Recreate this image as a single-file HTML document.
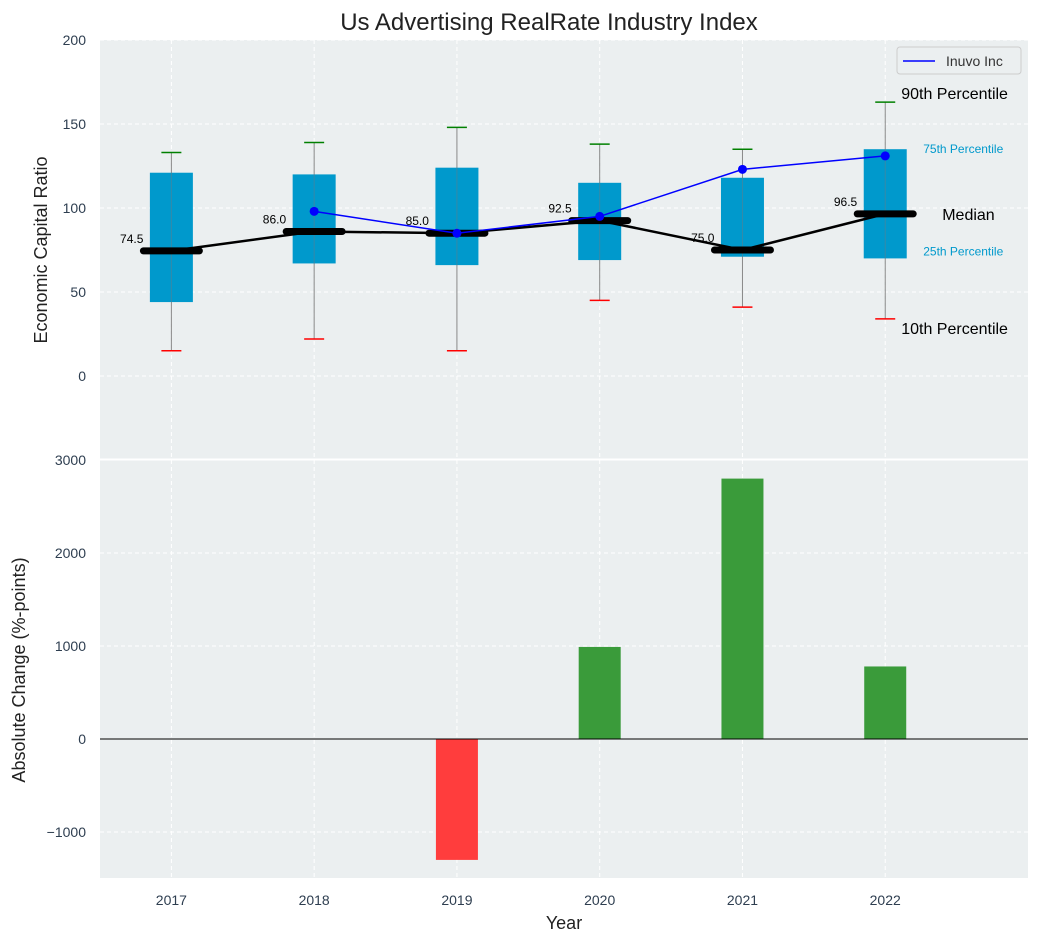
<!DOCTYPE html>
<html><head><meta charset="utf-8"><style>
body{margin:0;background:#fff;font-family:"Liberation Sans","DejaVu Sans",sans-serif}
</style></head><body>
<svg id="c" width="1039" height="942" xmlns="http://www.w3.org/2000/svg"></svg>
<script>
const years=[2017,2018,2019,2020,2021,2022];
const q1=[44,67,66,69,71,70];
const q3=[121,120,124,115,118,135];
const p10=[15,22,15,45,41,34];
const p90=[133,139,148,138,135,163];
const medians=[74.5,86,85,92.5,75,96.5];
const inuvoYears=[2018,2019,2020,2021,2022];
const inuvo=[98,85,95,123,131];
const changes=[null,null,-1300,990,2800,780];
const topTicks=[0,50,100,150,200];
const botTicks=[-1000,0,1000,2000,3000];

const svg=document.getElementById('c');
const NS='http://www.w3.org/2000/svg';
function el(t,a,p){const e=document.createElementNS(NS,t);for(const k in a)e.setAttribute(k,a[k]);(p||svg).appendChild(e);return e;}
const L=100,R=1028;
const TC='#2e3e50';
const x=v=>L+(v-2016.5)/(2023-2016.5)*(R-L);
const yT=v=>376-v*1.68;
const yB=v=>739-v*0.093;

let e=el('rect',{x:L,y:40,width:R-L,height:419,fill:'#ebeff0'});

e=el('rect',{x:L,y:460,width:R-L,height:418,fill:'#ebeff0'});


years.forEach(v=>{
 el('line',{x1:x(v),x2:x(v),y1:40,y2:459,stroke:'#fff','stroke-dasharray':'4,3','stroke-width':1});
 el('line',{x1:x(v),x2:x(v),y1:460,y2:878,stroke:'#fff','stroke-dasharray':'4,3','stroke-width':1});
 e=el('text',{x:x(v),y:905,'text-anchor':'middle','font-size':14,fill:TC});e.textContent=v;
 
});
topTicks.forEach(v=>{
 el('line',{x1:L,x2:R,y1:yT(v),y2:yT(v),stroke:'#fff','stroke-dasharray':'4,3'});
 e=el('text',{x:86,y:yT(v)+5,'text-anchor':'end','font-size':14,fill:TC});e.textContent=v;
 
});
botTicks.forEach(v=>{
 if(v!==0) el('line',{x1:L,x2:R,y1:yB(v),y2:yB(v),stroke:'#fff','stroke-dasharray':'4,3'});
 e=el('text',{x:86,y:yB(v)+5,'text-anchor':'end','font-size':14,fill:TC});e.textContent=v<0?'\u2212'+(-v):v;
 
});
el('line',{x1:L,x2:R,y1:459.5,y2:459.5,stroke:'#fff','stroke-width':2});

years.forEach((v,i)=>{
 const cx=x(v);
 e=el('line',{x1:cx,x2:cx,y1:yT(p10[i]),y2:yT(p90[i]),stroke:'#888','stroke-width':1});
 
 e=el('rect',{x:cx-21.5,y:yT(q3[i]),width:43,height:yT(q1[i])-yT(q3[i]),fill:'#0099cc'});
 
 el('line',{x1:cx,x2:cx,y1:yT(q3[i]),y2:yT(q1[i]),stroke:'#5a7f90','stroke-width':1,opacity:0.6});
 e=el('line',{x1:cx-10,x2:cx+10,y1:yT(p90[i]),y2:yT(p90[i]),stroke:'green','stroke-width':1.5});
 
 e=el('line',{x1:cx-10,x2:cx+10,y1:yT(p10[i]),y2:yT(p10[i]),stroke:'red','stroke-width':1.5});
 
});
e=el('polyline',{points:years.map((v,i)=>x(v)+','+yT(medians[i])).join(' '),fill:'none',stroke:'#000','stroke-width':2.5});

years.forEach((v,i)=>{
 const cx=x(v),cy=yT(medians[i]);
 e=el('line',{x1:cx-28,x2:cx+28,y1:cy,y2:cy,stroke:'#000','stroke-width':7,'stroke-linecap':'round'});
 
 e=el('text',{x:cx-28,y:cy-8,'text-anchor':'end','font-size':12,fill:'#000'});e.textContent=medians[i].toFixed(1);
 
});
e=el('polyline',{points:inuvoYears.map((v,i)=>x(v)+','+yT(inuvo[i])).join(' '),fill:'none',stroke:'blue','stroke-width':1.5});

inuvoYears.forEach((v,i)=>{e=el('circle',{cx:x(v),cy:yT(inuvo[i]),r:4.5,fill:'blue'});
 });

const lastI=years.length-1,ax=x(years[lastI]);
function ann(t,xx,yy,fs,col,name){e=el('text',{x:xx,y:yy,'font-size':fs,fill:col});e.textContent=t;}
ann('90th Percentile',ax+16,yT(p90[lastI])-3,16,'#000','p90-annotation');
ann('75th Percentile',ax+38,yT(q3[lastI])+4,12,'#0099cc','q3-annotation');
ann('Median',ax+57,yT(medians[lastI])+6,16,'#000','median-annotation');
ann('25th Percentile',ax+38,yT(q1[lastI])-3,12,'#0099cc','q1-annotation');
ann('10th Percentile',ax+16,yT(p10[lastI])+15,16,'#000','p10-annotation');

const lg=el('g',{});
el('rect',{x:897,y:47,width:124,height:27,fill:'#ebeff0',stroke:'#ccc',rx:3},lg);
el('line',{x1:903,x2:935,y1:61,y2:61,stroke:'blue','stroke-width':1.5},lg);
e=el('text',{x:946,y:66,'font-size':14,fill:'#333'},lg);e.textContent='Inuvo Inc';

years.forEach((v,i)=>{const c=changes[i];if(c==null)return;
 const y0=yB(Math.max(c,0)),y1=yB(Math.min(c,0));
 e=el('rect',{x:x(v)-21,y:y0,width:42,height:y1-y0,fill:c<0?'#ff3d3d':'#3a9b3a'});
 
});
e=el('line',{x1:L,x2:R,y1:yB(0),y2:yB(0),stroke:'#000','stroke-width':1});


e=el('text',{x:549,y:30,'text-anchor':'middle','font-size':24,fill:'#222'});e.textContent='Us Advertising RealRate Industry Index';

e=el('text',{x:564,y:929,'text-anchor':'middle','font-size':18,fill:'#222'});e.textContent='Year';

e=el('text',{x:0,y:0,'text-anchor':'middle','font-size':18,fill:'#222',transform:'translate(47,250) rotate(-90)'});e.textContent='Economic Capital Ratio';

e=el('text',{x:0,y:0,'text-anchor':'middle','font-size':18,fill:'#222',transform:'translate(25,670) rotate(-90)'});e.textContent='Absolute Change (%-points)';

</script>
</body></html>
